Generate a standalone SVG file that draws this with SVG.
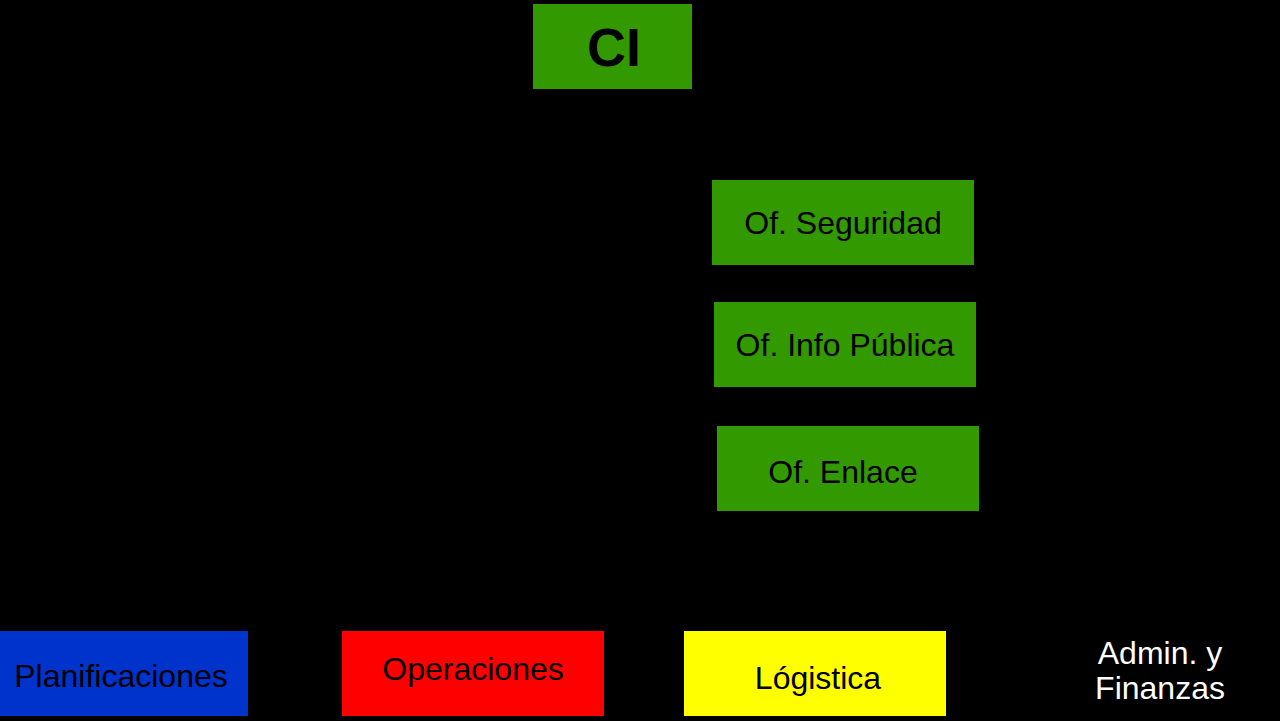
<svg xmlns="http://www.w3.org/2000/svg" width="1280" height="721" viewBox="0 0 1280 721">
<style>
text{font-family:"Liberation Sans",Arial,sans-serif;font-size:32px;text-anchor:middle;fill:#000}
.g{fill:#339900}
</style>
<rect width="1280" height="721" fill="#000"/>
<g id="connectors"></g>
<g id="ci"><rect class="g" x="533" y="4" width="159" height="85"/><text x="614" y="66" style="font-size:54px;font-weight:bold">CI</text></g>
<g id="seguridad"><rect class="g" x="712" y="180" width="262" height="85"/><text x="843" y="234">Of. Seguridad</text></g>
<g id="info"><rect class="g" x="714" y="302" width="262" height="85"/><text x="845" y="356">Of. Info Pública</text></g>
<g id="enlace"><rect class="g" x="717" y="426" width="262" height="85"/><text x="843" y="483">Of. Enlace</text></g>
<g id="planif"><rect fill="#0033cc" x="0" y="631" width="248" height="85"/><text x="121" y="687">Planificaciones</text></g>
<g id="oper"><rect fill="#ff0000" x="342" y="631" width="262" height="85"/><text x="473" y="680">Operaciones</text></g>
<g id="log"><rect fill="#ffff00" x="684" y="631" width="262" height="85"/><text x="818" y="689">Lógistica</text></g>
<g id="admin"><text x="1160" y="664" style="fill:#fff">Admin. y</text><text x="1160" y="699" style="fill:#fff">Finanzas</text></g>
</svg>
